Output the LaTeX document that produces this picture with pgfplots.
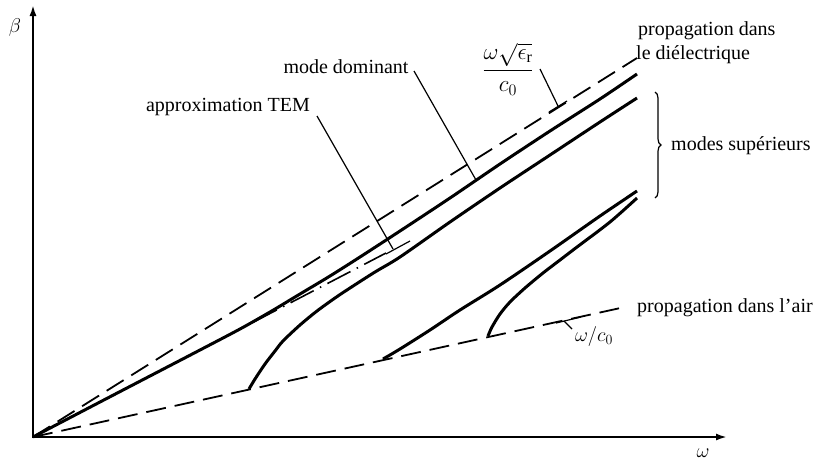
\documentclass[border=0pt]{standalone}
\usepackage{fix-cm}
\usepackage{amsmath}
\usepackage{fontspec}
\setmainfont{Liberation Serif}
\usepackage{pgfplots}
\pgfplotsset{compat=1.18}
\usetikzlibrary{arrows.meta,decorations.pathreplacing}
\tikzset{lbl/.style={font=\fontsize{20}{23}\selectfont, inner sep=0pt}}

\begin{document}
\begin{tikzpicture}
\begin{axis}[
  width=818pt, height=461pt, scale only axis,
  xmin=0, xmax=818, ymin=0, ymax=461, y dir=reverse,
  hide axis, clip=false,
]
% axes
\addplot[black, line width=2pt, -{Latex[length=11pt,width=7pt]}] coordinates {(33,438) (33,5)};
\addplot[black, line width=2pt, -{Latex[length=11pt,width=7pt]}] coordinates {(32,437) (727,437)};
% dielectric light line
\addplot[black, line width=1.8pt, dash pattern=on 20pt off 9pt] coordinates {(33,437) (637,58)};
% air light line
\addplot[black, line width=1.8pt, dash pattern=on 20pt off 9pt] coordinates {(33,437) (625,307)};
% TEM approximation
\addplot[black, line width=1.6pt, dash pattern=on 26pt off 7pt on 1.5pt off 7pt] coordinates {(33,437) (386,253)};
% dominant mode
\addplot[black, line width=3pt, smooth, tension=0.5] coordinates {
(33,437) (100,402) (150,376) (200,350) (240,329) (270,312) (300,294) (330,276) (360,257) (400,231) (450,198) (500,164) (550,131) (600,99) (637,74)};
% mode 2
\addplot[black, line width=3pt, smooth, tension=0.5] coordinates {
(249,389) (255,379) (265,364) (275,351) (283,341) (300,325) (317,311) (335,298) (350,288) (375,272) (400,257) (450,222) (500,188) (550,155) (600,122) (637,98)};
% mode 3
\addplot[black, line width=3pt, smooth, tension=0.5] coordinates {
(383,359) (400,349) (430,330) (460,310) (500,285) (550,251) (600,216) (637,191)};
% mode 4
\addplot[black, line width=3pt, smooth, tension=0.5] coordinates {
(488,336) (492,327) (500,314) (510,302) (525,288) (543,273) (560,260) (577,247) (610,222) (637,198)};
% leaders
\addplot[black, line width=1.2pt] coordinates {(540,69) (558,106)};
\addplot[black, line width=1.2pt] coordinates {(549,112) (567,101)};
\addplot[black, line width=1.2pt] coordinates {(414,71) (476,180)};
\addplot[black, line width=1.2pt] coordinates {(317,116) (393,249)};
\addplot[black, line width=1.2pt] coordinates {(386,254) (410,241)};
\addplot[black, line width=1.2pt] coordinates {(556,323) (581,317)};
\addplot[black, line width=1.2pt] coordinates {(564,321) (572,329)};
% brace
\draw[black, line width=1.2pt, decorate, decoration={brace, amplitude=6pt}] (axis cs:655,92) -- (axis cs:655,198);
% labels
\node[lbl, anchor=west] at (axis cs:638,31) {propagation dans};
\node[lbl, anchor=west] at (axis cs:636,55) {le diélectrique};
\node[lbl, anchor=west] at (axis cs:671,146) {modes supérieurs};
\node[lbl, anchor=west] at (axis cs:637,308) {propagation dans l'air};
\node[lbl] at (axis cs:346,67) {mode dominant};
\node[lbl] at (axis cs:228,107) {approximation TEM};
\node[lbl] at (axis cs:15,27) {$\beta$};
\node[lbl] at (axis cs:703,453) {$\omega$};
\node[lbl] at (axis cs:594,336) {$\omega/c_0$};
\node[lbl, font=\fontsize{23}{26}\selectfont] at (axis cs:508,69) {$\dfrac{\omega\sqrt{\epsilon_{\mathrm{r}}}}{c_0}$};
\end{axis}
\pgfresetboundingbox
\path (current axis.south west) rectangle (current axis.north east);
\end{tikzpicture}
\end{document}
